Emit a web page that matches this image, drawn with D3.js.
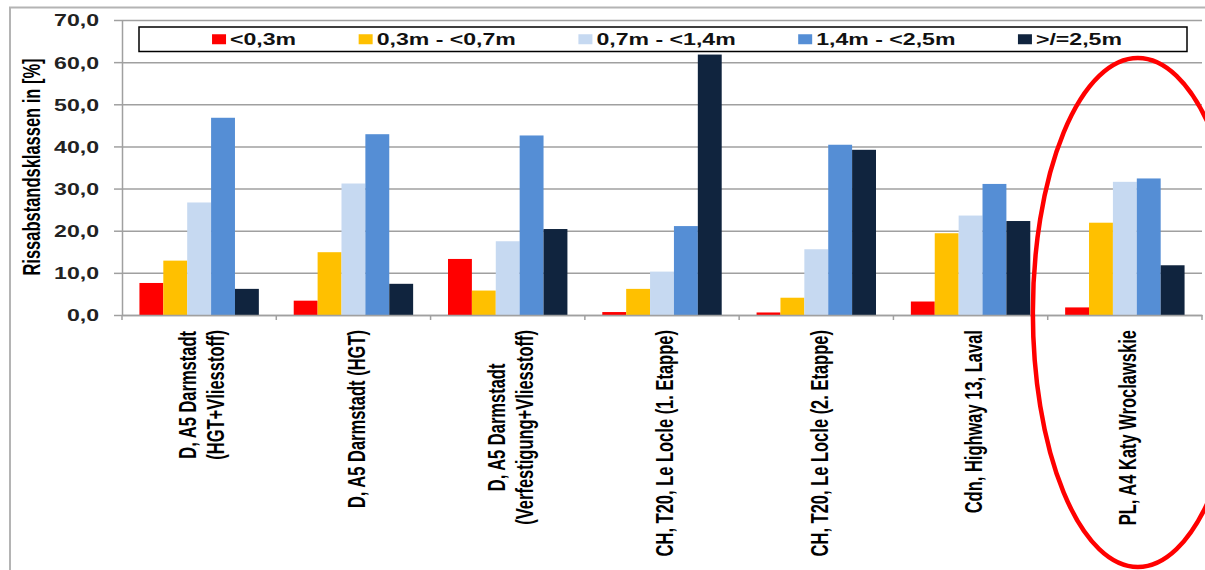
<!DOCTYPE html>
<html>
<head>
<meta charset="utf-8">
<script src="https://cdn.jsdelivr.net/npm/d3@7"></script>
<style>
  body { margin: 0; background: #fff; }
  svg { display: block; font-family: "Liberation Sans", Arial, sans-serif; font-weight: bold; }
</style>
</head>
<body>
<svg id="chart" width="1205" height="570"></svg>
<script>
// categories (line breaks as in the original labels)
const categories = [
  "D, A5 Darmstadt\n(HGT+Vliesstoff)",
  "D, A5 Darmstadt (HGT)",
  "D, A5 Darmstadt\n(Verfestigung+Vliesstoff)",
  "CH, T20, Le Locle (1. Etappe)",
  "CH, T20, Le Locle (2. Etappe)",
  "Cdn, Highway 13, Laval",
  "PL, A4 Katy Wroclawskie"
];
const seriesNames = ["<0,3m", "0,3m - <0,7m", "0,7m - <1,4m", "1,4m - <2,5m", ">/=2,5m"];
const under03 = [7.6, 3.4, 13.3, 0.7, 0.6, 3.2, 1.8];
const from03to07 = [12.9, 14.9, 5.8, 6.2, 4.1, 19.4, 21.9];
const from07to14 = [26.7, 31.2, 17.5, 10.3, 15.6, 23.6, 31.6];
const from14to25 = [46.8, 42.9, 42.6, 21.1, 40.4, 31.1, 32.4];
const over25 = [6.2, 7.4, 20.4, 61.8, 39.2, 22.3, 11.8];
const yTicks = [0, 10, 20, 30, 40, 50, 60, 70];
const colors = ["#ff0000", "#ffc000", "#c6d9f1", "#558ed5", "#10243e"];

const seriesValues = [under03, from03to07, from07to14, from14to25, over25];
const SX = 1.4; // the source picture is stretched horizontally
const FS = 16.5;

const svg = d3.select("#chart");
const plotLeft = 122, plotRight = 1202, plotTop = 20, plotBottom = 315;

// outer frame of the chart object
svg.append("path")
  .attr("d", "M10,570V7.5H1205")
  .attr("fill", "none")
  .attr("stroke", "#b4b4b4")
  .attr("stroke-width", 2);

const x0 = d3.scaleBand().domain(categories).range([plotLeft, plotRight]);
const x1 = d3.scaleBand().domain(seriesNames).range([0, x0.bandwidth()]).paddingOuter(0.73);
const y = d3.scaleLinear().domain([0, 70]).range([plotBottom, plotTop]);

const locale = d3.formatLocale({ decimal: ",", thousands: ".", grouping: [3], currency: ["", "€"] });
const fmt = locale.format(".1f");

// grid lines
svg.append("g")
  .attr("class", "grid")
  .attr("transform", `translate(${plotLeft},0)`)
  .call(d3.axisRight(y).tickValues(yTicks).tickSize(plotRight - plotLeft).tickFormat(""))
  .call(g => g.select(".domain").remove())
  .call(g => g.selectAll("line").attr("stroke", "#a0a0a0").attr("stroke-width", 1.5));

// bars
const groups = svg.append("g").selectAll("g")
  .data(categories)
  .join("g")
  .attr("transform", d => `translate(${x0(d)},0)`);

groups.selectAll("rect")
  .data((d, i) => seriesNames.map((s, j) => ({ s, v: seriesValues[j][i], c: colors[j] })))
  .join("rect")
  .attr("x", d => x1(d.s))
  .attr("width", x1.bandwidth())
  .attr("y", d => y(d.v))
  .attr("height", d => y(0) - y(d.v))
  .attr("fill", d => d.c);

// y axis
const yAxis = svg.append("g")
  .attr("transform", `translate(${plotLeft},0)`)
  .call(d3.axisLeft(y).tickValues(yTicks).tickSize(8).tickSizeOuter(0).tickFormat(fmt));
yAxis.select(".domain").attr("stroke", "#a0a0a0").attr("stroke-width", 1.5);
yAxis.selectAll(".tick line").attr("stroke", "#a0a0a0").attr("stroke-width", 1.5);
yAxis.selectAll(".tick text")
  .attr("x", null)
  .attr("dy", "0.36em")
  .attr("transform", `translate(-23,0) scale(${SX},1)`)
  .attr("font-size", FS)
  .attr("font-family", "Liberation Sans, Arial, sans-serif")
  .attr("font-weight", "bold")
  .attr("fill", "#222");

// x axis line and boundary ticks
const xAxis = svg.append("g")
  .attr("transform", `translate(0,${plotBottom})`)
  .call(d3.axisBottom(x0).tickValues([]).tickSizeOuter(0));
xAxis.select(".domain").attr("stroke", "#a0a0a0").attr("stroke-width", 1.5);
const bounds = [x0.range()[0]].concat(categories.map(c => x0(c) + x0.bandwidth()));
xAxis.selectAll("line.bound")
  .data(bounds)
  .join("line")
  .attr("class", "bound")
  .attr("x1", d => d).attr("x2", d => d)
  .attr("y1", 0).attr("y2", 5)
  .attr("stroke", "#a0a0a0").attr("stroke-width", 1.5);

// category labels (rotated, block end at the top)
const labelTop = 330, lineGap = 28;
categories.forEach(c => {
  const lines = c.split("\n");
  const g = svg.append("g");
  const texts = lines.map(l => g.append("text").text(l).attr("font-size", FS).attr("fill", "#000").attr("text-anchor", "middle"));
  const maxLen = d3.max(texts, t => t.node().getComputedTextLength());
  const cx = x0(c) + x0.bandwidth() / 2 + 3;
  g.attr("transform", `translate(${cx},${labelTop + maxLen / 2}) scale(${SX},1) rotate(-90)`);
  texts.forEach((t, i) => {
    t.attr("x", 0)
      .attr("y", ((i - (lines.length - 1) / 2) * lineGap) / SX)
      .attr("dy", "0.36em");
  });
});

// y axis title
svg.append("text")
  .attr("transform", `translate(32,167) scale(${SX},1) rotate(-90)`)
  .attr("text-anchor", "middle")
  .attr("dy", "0.36em")
  .attr("font-size", FS)
  .attr("fill", "#000")
  .text("Rissabstandsklassen in [%]");

// legend
const legBox = { x: 139, y: 27, w: 1048, h: 24.5 };
const legend = svg.append("g");
legend.append("rect")
  .attr("x", legBox.x).attr("y", legBox.y)
  .attr("width", legBox.w).attr("height", legBox.h)
  .attr("fill", "#fff").attr("stroke", "#000").attr("stroke-width", 1.5);

const sq = 14, sqGap = 4, itemGap = 62.5;
const items = legend.selectAll("g.item")
  .data(seriesNames)
  .join("g")
  .attr("class", "item");
items.append("rect")
  .attr("width", sq).attr("height", 10)
  .attr("y", -5)
  .attr("fill", (d, i) => colors[i]);
items.append("text")
  .attr("transform", `translate(${sq + sqGap},0) scale(${SX},1)`)
  .attr("dy", "0.36em")
  .attr("font-size", FS)
  .attr("fill", "#111")
  .text(d => d);
const widths = items.nodes().map(n => sq + sqGap + d3.select(n).select("text").node().getComputedTextLength() * SX);
const total = d3.sum(widths) + itemGap * (widths.length - 1);
let cursor = legBox.x + (legBox.w - total) / 2 + 4;
items.each(function (d, i) {
  d3.select(this).attr("transform", `translate(${cursor},${legBox.y + legBox.h / 2})`);
  cursor += widths[i] + itemGap;
});

// red annotation ellipse around the last category
const last = categories[categories.length - 1];
svg.append("ellipse")
  .attr("cx", x0(last) + x0.bandwidth() / 2 + 13)
  .attr("cy", 312.5)
  .attr("rx", 105)
  .attr("ry", 254.5)
  .attr("fill", "none")
  .attr("stroke", "#ff0000")
  .attr("stroke-width", 4.5);
</script>
</body>
</html>
